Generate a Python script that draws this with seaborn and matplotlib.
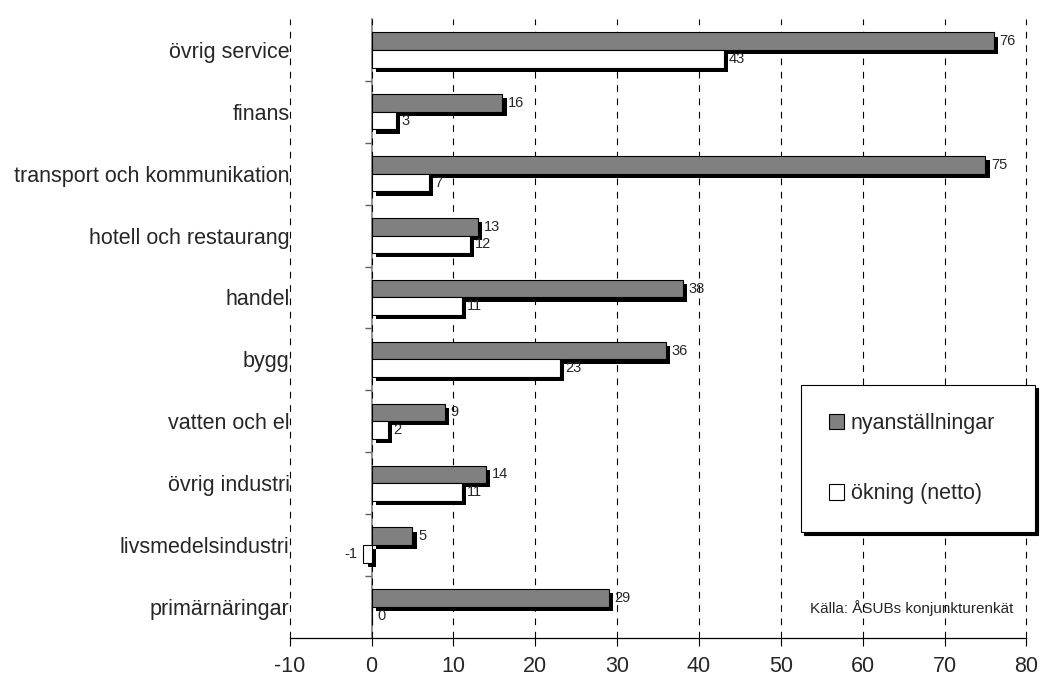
import matplotlib
matplotlib.use("Agg")
from matplotlib import pyplot as plt
from matplotlib import patheffects
import pandas as pd
import numpy as np
import seaborn as sns

categories = ["övrig service", "finans", "transport och kommunikation",
              "hotell och restaurang", "handel", "bygg", "vatten och el",
              "övrig industri", "livsmedelsindustri", "primärnäringar"]
nyanst = [76, 16, 75, 13, 38, 36, 9, 14, 5, 29]
okning = [43, 3, 7, 12, 11, 23, 2, 11, -1, 0]
series = ["nyanställningar", "ökning (netto)"]
xticks = list(range(-10, 90, 10))

df = pd.DataFrame({
    "kategori": categories * 2,
    "varde": nyanst + okning,
    "serie": [series[0]] * len(categories) + [series[1]] * len(categories),
})

sns.set_style("white")
plt.rcParams["font.family"] = ["Liberation Sans", "DejaVu Sans"]
plt.rcParams["axes.unicode_minus"] = False

fig = plt.figure(figsize=(10.42, 6.8), dpi=100)
ax = fig.add_axes([0.278, 0.062, 0.707, 0.91])

sns.barplot(data=df, y="kategori", x="varde", hue="serie", orient="h",
            palette=["#808080", "#ffffff"], edgecolor="black", linewidth=0.8,
            width=0.57, saturation=1, ax=ax, legend=False)

shadow = [patheffects.SimplePatchShadow(offset=(3, -3), shadow_rgbFace="black", alpha=1),
          patheffects.Normal()]
for p in ax.patches:
    p.set_path_effects(shadow)

for c in ax.containers:
    ax.bar_label(c, fmt="%d", padding=4, fontsize=10.5)

ax.set_xlim(-10, 80)
ax.set_xticks(xticks)
ax.set_xlabel("")
ax.set_ylabel("")
ax.tick_params(axis="x", labelsize=15.5, direction="out", length=6, width=0.8,
               color="black", bottom=True, pad=7)
ax.tick_params(axis="y", labelsize=15.5, length=0, pad=0)
ax.xaxis.grid(True, linestyle=(0, (6, 6)), color="black", linewidth=0.8)
ax.yaxis.grid(False)
ax.set_axisbelow(True)
for gl in ax.get_xgridlines():
    gl.set_clip_on(False)
for s in ["top", "right", "left"]:
    ax.spines[s].set_visible(False)
ax.spines["bottom"].set_color("black")
ax.spines["bottom"].set_linewidth(0.9)

# vertical axis line at x = 0 with ticks between the categories
sec = ax.secondary_yaxis(0, transform=ax.transData)
sec.set_yticks(np.arange(0.5, len(categories) - 1, 1))
sec.set_yticklabels([])
sec.tick_params(length=5, width=1.0, color="#606060", direction="out")
sec.spines["left"].set_color("#808080")
sec.spines["left"].set_linewidth(1.2)

handles = [plt.Rectangle((0, 0), 1, 1, facecolor="#808080", edgecolor="black", linewidth=0.8),
           plt.Rectangle((0, 0), 1, 1, facecolor="white", edgecolor="black", linewidth=0.8)]
leg = fig.legend(handles, series, loc="upper left", mode="expand",
                 bbox_to_anchor=(801 / 1042, 1 - 526 / 680, 234 / 1042, 141 / 680),
                 fontsize=15.5, frameon=True, fancybox=False, edgecolor="black",
                 framealpha=1, shadow={"color": "black", "alpha": 1},
                 handlelength=0.7, handleheight=0.7, handletextpad=0.3,
                 labelspacing=2.3, borderpad=1.3, borderaxespad=0)
leg.get_frame().set_linewidth(0.8)

ax.text(0.982, 0.035, "Källa: ÅSUBs konjunkturenkät", transform=ax.transAxes,
        ha="right", va="bottom", fontsize=11)

fig.savefig("out.png", dpi=100)
